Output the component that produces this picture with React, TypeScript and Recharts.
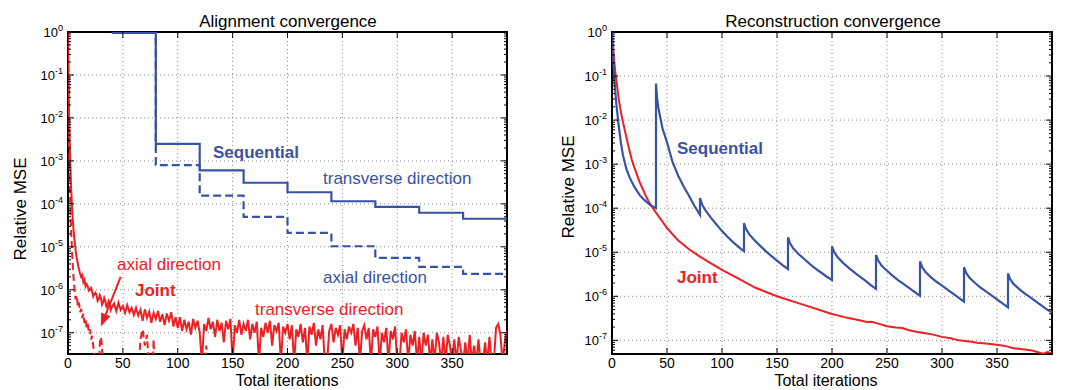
import { LineChart, Line, XAxis, YAxis, ReferenceLine, ReferenceArea, ReferenceDot } from "recharts"

const BLUE = "#3953a4"
const RED = "#ed2024"
const FONT = "'Liberation Sans', Arial, Helvetica, sans-serif"

// x ticks, shared by both panels
const ITER_TICKS = [0, 50, 100, 150, 200, 250, 300, 350, 400]
const GRID_X = [50, 100, 150, 200, 250, 300, 350]
const DECADES = [1e-7, 1e-6, 1e-5, 1e-4, 1e-3, 1e-2, 1e-1, 1]
const MINOR_MULT = [2, 3, 4, 5, 6, 7, 8, 9]

// alignment: sequential step curves (value held from each iteration on)
const ALIGN_STEP_ITERS = [40, 80, 120, 160, 200, 240, 280, 320, 360, 400]
const SEQ_TRANSVERSE = [0.95, 2.5e-3, 6e-4, 3.1e-4, 1.86e-4, 1.15e-4, 8.5e-5, 6.2e-5, 4.5e-5, 4.5e-5]
const SEQ_AXIAL = [0.95, 8e-4, 1.55e-4, 5e-5, 2.1e-5, 1.03e-5, 5.5e-6, 3.4e-6, 2.35e-6, 2.35e-6]

// alignment: joint, transverse (solid, noisy)
const JOINT_TRANSVERSE: [number, number][] = [
  [0, 1], [1, 1e-2], [2, 1e-3], [3, 2e-4], [4, 6e-5], [5, 2.5e-5], [6, 1.4e-5], [7, 8e-6], [8, 5.5e-6], [9, 4e-6],
  [10, 3e-6], [11, 2.4e-6], [12, 2e-6], [13, 2.2e-6], [14, 1.5e-6], [15, 1.7e-6], [16, 1.2e-6], [17, 1.35e-6], [18, 1.2e-6], [19, 9.5e-7],
  [20, 1e-6], [21, 1.1e-6], [22, 9e-7], [23, 7e-7], [24, 8e-7], [25, 8.5e-7], [26, 7.5e-7], [27, 5.5e-7], [28, 6e-7], [29, 7.5e-7],
  [30, 6.5e-7], [31, 4.5e-7], [32, 5e-7], [33, 6.5e-7], [34, 5.5e-7], [35, 4e-7], [36, 4.2e-7], [37, 5.5e-7], [38, 4.8e-7], [39, 3.4e-7],
  [40, 4e-7], [42, 4.8e-7], [44, 3.2e-7], [46, 5e-7], [48, 3.4e-7], [50, 4.2e-7], [52, 2.9e-7], [54, 4.4e-7], [56, 3e-7], [58, 3.8e-7],
  [60, 2.6e-7], [62, 3.8e-7], [64, 2.5e-7], [66, 3.4e-7], [68, 1.9e-7], [70, 3.5e-7], [72, 2.2e-7], [74, 3.1e-7], [76, 1.7e-7], [78, 2.9e-7],
  [80, 2.1e-7], [82, 3.2e-7], [84, 1.8e-7], [86, 2.7e-7], [88, 1.5e-7], [90, 2.8e-7], [92, 1.9e-7], [94, 3e-7], [96, 1.4e-7], [98, 2.3e-7],
  [100, 1.3e-7], [102, 2.3e-7], [104, 1.1e-7], [106, 2e-7], [108, 1.2e-7], [110, 1.8e-7], [112, 9e-8], [114, 2.1e-7], [116, 1.3e-7], [118, 1.9e-7],
  [120, 1e-7], [122, 2e-8], [124, 1.6e-7], [126, 1.1e-7], [128, 2.2e-7], [130, 1.2e-7], [132, 1.8e-7], [134, 8e-8], [136, 2e-7], [138, 1.1e-7],
  [140, 1.7e-7], [142, 6e-8], [144, 1.9e-7], [146, 1.2e-7], [148, 2.1e-7], [150, 2e-8], [152, 1.5e-7], [154, 1e-7], [156, 2e-7], [158, 9e-8],
  [160, 1.6e-7], [162, 1.1e-7], [164, 2e-7], [166, 7e-8], [168, 1.6e-7], [170, 1e-7], [172, 1.8e-7], [174, 2e-8], [176, 1.3e-7], [178, 8e-8],
  [180, 1.7e-7], [182, 1e-7], [184, 1.9e-7], [186, 5e-8], [188, 1.5e-7], [190, 1.1e-7], [192, 1.7e-7], [194, 2e-8], [196, 1.4e-7], [198, 1e-7],
  [200, 1.6e-7], [202, 7e-8], [204, 1.5e-7], [206, 2e-8], [208, 1.2e-7], [210, 8e-8], [212, 1.6e-7], [214, 6e-8], [216, 1.3e-7], [218, 2e-8],
  [220, 1.4e-7], [222, 9e-8], [224, 1.7e-7], [226, 5e-8], [228, 1.2e-7], [230, 7e-8], [232, 1.5e-7], [234, 2e-8], [236, 2e-8], [238, 1.1e-7],
  [240, 1.6e-7], [242, 6e-8], [244, 1.3e-7], [246, 9e-8], [248, 1.5e-7], [250, 2e-8], [252, 1.2e-7], [254, 7e-8], [256, 1.4e-7], [258, 1e-7],
  [260, 1.6e-7], [262, 5e-8], [264, 1.3e-7], [266, 2e-8], [268, 1.1e-7], [270, 1.5e-7], [272, 7e-8], [274, 1.3e-7], [276, 2e-8], [278, 1.2e-7],
  [280, 8e-8], [282, 1.4e-7], [284, 2e-8], [286, 1e-7], [288, 6e-8], [290, 1.3e-7], [292, 2e-8], [294, 1.1e-7], [296, 7e-8], [298, 1.4e-7],
  [300, 2e-8], [302, 2e-8], [304, 1e-7], [306, 6e-8], [308, 1.2e-7], [310, 2e-8], [312, 9e-8], [314, 5e-8], [316, 1.1e-7], [318, 2e-8],
  [320, 8e-8], [322, 2e-8], [324, 1e-7], [326, 5e-8], [328, 9e-8], [330, 2e-8], [332, 7e-8], [334, 2e-8], [336, 1e-7], [338, 6e-8],
  [340, 2e-8], [342, 8e-8], [344, 2e-8], [346, 9e-8], [348, 5e-8], [350, 2e-8], [352, 7e-8], [354, 2e-8], [356, 8e-8], [358, 4e-8],
  [360, 2e-8], [362, 6e-8], [364, 2e-8], [366, 9e-8], [368, 2e-8], [370, 5e-8], [372, 2e-8], [374, 7e-8], [376, 2e-8], [378, 2e-8],
  [380, 6e-8], [382, 2e-8], [384, 8e-8], [386, 2e-8], [388, 2e-8], [390, 1.3e-7], [392, 1.6e-7], [394, 9e-8], [396, 2e-8], [398, 6e-8],
  [400, 1.1e-7],
]

// alignment: joint, axial (dashed, mostly under the axis floor)
const JOINT_AXIAL: [number, number][] = [
  [0, 1], [1, 3e-3], [2, 1e-4], [3, 2e-5], [4, 5e-6], [5, 2e-6], [6, 1e-6], [7, 6e-7], [8, 7.5e-7], [9, 4e-7],
  [10, 5e-7], [11, 3e-7], [12, 3.6e-7], [13, 2.2e-7], [14, 2.8e-7], [15, 1.7e-7], [16, 2.1e-7], [17, 1.3e-7], [18, 1.6e-7], [19, 1e-7],
  [20, 1.2e-7], [21, 7e-8], [22, 8.5e-8], [23, 5e-8], [24, 3e-8], [25, 1e-8], [28, 1e-8], [29, 6e-8], [30, 8e-8], [31, 5e-8],
  [32, 1e-8], [64, 1e-8], [66, 7e-8], [68, 1.2e-7], [70, 5e-8], [72, 9e-8], [74, 1e-8], [77, 1e-8], [78, 7e-8], [79, 1e-8],
  [124, 1e-8], [126, 5e-8], [128, 1e-8], [400, 1e-8],
]

// reconstruction: sequential (restarts every 40 iterations)
const RECON_SEQUENTIAL: [number, number][] = [
  [0, 1], [1, 0.251], [2, 0.1], [3, 4.47e-2], [4, 2.24e-2], [6, 7.94e-3], [8, 3.16e-3], [10, 1.58e-3], [13, 7.94e-4], [16, 5.01e-4],
  [20, 3.16e-4], [25, 2.0e-4], [30, 1.48e-4], [35, 1.17e-4], [40, 1.0e-4],
  [40, 6.76e-2], [41, 3.16e-2], [42, 2.0e-2], [44, 1.12e-2], [46, 6.31e-3], [50, 3.16e-3], [55, 1.12e-3], [60, 5.62e-4], [65, 3.16e-4], [70, 1.91e-4], [75, 1.12e-4], [80, 7.08e-5],
  [80, 1.7e-4], [82, 1.2e-4], [85, 8.91e-5], [90, 6.03e-5], [95, 4.27e-5], [100, 3.02e-5], [105, 2.24e-5], [110, 1.7e-5], [115, 1.32e-5], [120, 1.05e-5],
  [120, 4.57e-5], [122, 3.31e-5], [125, 2.51e-5], [130, 1.82e-5], [135, 1.38e-5], [140, 1.05e-5], [145, 8.13e-6], [150, 6.46e-6], [155, 5.13e-6], [160, 4.17e-6],
  [160, 2.19e-5], [162, 1.58e-5], [165, 1.2e-5], [170, 8.91e-6], [175, 6.92e-6], [180, 5.37e-6], [185, 4.27e-6], [190, 3.47e-6], [195, 2.82e-6], [200, 2.34e-6],
  [200, 1.35e-5], [202, 1.0e-5], [205, 7.76e-6], [210, 5.75e-6], [215, 4.47e-6], [220, 3.55e-6], [225, 2.82e-6], [230, 2.29e-6], [235, 1.82e-6], [240, 1.48e-6],
  [240, 8.71e-6], [242, 6.46e-6], [245, 5.01e-6], [250, 3.8e-6], [255, 2.95e-6], [260, 2.34e-6], [265, 1.91e-6], [270, 1.55e-6], [275, 1.26e-6], [280, 1.02e-6],
  [280, 6.17e-6], [282, 4.57e-6], [285, 3.55e-6], [290, 2.69e-6], [295, 2.14e-6], [300, 1.74e-6], [305, 1.41e-6], [310, 1.15e-6], [315, 9.33e-7], [320, 7.59e-7],
  [320, 4.57e-6], [322, 3.39e-6], [325, 2.63e-6], [330, 2.0e-6], [335, 1.58e-6], [340, 1.29e-6], [345, 1.05e-6], [350, 8.51e-7], [355, 6.92e-7], [360, 5.62e-7],
  [360, 3.31e-6], [362, 2.45e-6], [365, 1.91e-6], [370, 1.48e-6], [375, 1.17e-6], [380, 9.55e-7], [385, 7.76e-7], [390, 6.31e-7], [395, 5.13e-7], [400, 4.27e-7],
]

// reconstruction: joint
const RECON_JOINT: [number, number][] = [
  [0, 1], [1, 0.447], [2, 0.224], [3, 0.126], [4, 7.94e-2], [6, 3.16e-2], [8, 1.58e-2], [10, 8.91e-3], [15, 2.51e-3], [18, 1.26e-3],
  [20, 8.91e-4], [25, 3.98e-4], [30, 2.09e-4], [34, 1.32e-4], [40, 7.94e-5], [50, 3.55e-5], [60, 1.86e-5], [70, 1.17e-5], [80, 7.94e-6], [90, 5.62e-6],
  [100, 3.98e-6], [115, 2.51e-6], [130, 1.58e-6], [150, 1.0e-6], [175, 6.31e-7], [200, 3.98e-7], [215, 3.2e-7], [225, 2.85e-7], [232, 2.6e-7], [236, 2.65e-7],
  [242, 2.4e-7], [250, 2.1e-7], [258, 1.95e-7], [264, 1.9e-7], [270, 1.7e-7], [278, 1.55e-7], [285, 1.45e-7], [292, 1.35e-7], [300, 1.2e-7], [308, 1.12e-7],
  [315, 1.0e-7], [325, 9.4e-8], [332, 8.8e-8], [340, 8.5e-8], [350, 7.9e-8], [358, 7.4e-8], [365, 6.6e-8], [375, 6.2e-8], [382, 5.9e-8], [388, 5.3e-8],
  [392, 5.0e-8], [396, 5.4e-8], [400, 5.1e-8],
]

const toPts = (pairs: [number, number][]) => pairs.map(([x, y]) => ({ x, y }))
const stepPts = (ys: number[]) => ALIGN_STEP_ITERS.map((x, i) => ({ x, y: ys[i] }))

function yTicks(min: number) {
  const minors = DECADES.flatMap((d) => MINOR_MULT.map((m) => m * d / 10)).filter((v) => v >= min && v < 1)
  return [...DECADES, ...minors].sort((a, b) => a - b)
}

function LogTick(props: any) {
  const { y, payload, left, right } = props
  const v = payload.value
  const e = Math.round(Math.log10(v))
  const major = Math.abs(Math.log10(v) - e) < 1e-6
  const len = major ? 6 : 3
  return (
    <g>
      <line x1={left} x2={left + len} y1={y} y2={y} stroke="#000" strokeWidth={1} />
      <line x1={right} x2={right - len} y1={y} y2={y} stroke="#000" strokeWidth={1} />
      {major && (
        <text x={left - 5} y={y + 5} textAnchor="end" fontSize={13} fontFamily={FONT} fill="#000">
          10<tspan dy={-6} fontSize={9}>{e}</tspan>
        </text>
      )}
    </g>
  )
}

function IterTick(props: any) {
  const { x, payload, top, bottom } = props
  const v = payload.value
  const edge = v === 0 || v === 400
  return (
    <g>
      {!edge && <line x1={x} x2={x} y1={bottom} y2={bottom - 6} stroke="#000" />}
      {!edge && <line x1={x} x2={x} y1={top} y2={top + 6} stroke="#000" />}
      {v !== 400 && (
        <text x={x} y={bottom + 14} textAnchor="middle" fontSize={14} fontFamily={FONT} fill="#000">
          {v}
        </text>
      )}
    </g>
  )
}

function ArrowHead(props: any) {
  const { cx, cy } = props
  // points back toward the "axial direction" label
  const dx = 20, dy = -50
  const n = Math.hypot(dx, dy)
  const ux = dx / n, uy = dy / n
  const bx = cx + ux * 13, by = cy + uy * 13
  const px = -uy * 5, py = ux * 5
  return <polygon points={`${cx},${cy} ${bx + px},${by + py} ${bx - px},${by - py}`} fill={RED} />
}

function Panel({ width, left, right, ymin, children }: any) {
  const top = 32
  const bottom = 354
  return (
    <LineChart
      width={width}
      height={390}
      margin={{ top, right: width - right, bottom: 390 - bottom - 30, left: left - 60 }}
    >
      <XAxis
        type="number"
        dataKey="x"
        domain={[0, 400]}
        ticks={ITER_TICKS}
        interval={0}
        allowDataOverflow
        height={30}
        axisLine={false}
        tickLine={false}
        tick={(p: any) => <IterTick {...p} top={top} bottom={bottom} />}
      />
      <YAxis
        type="number"
        scale="log"
        domain={[ymin, 1]}
        ticks={yTicks(ymin)}
        interval={0}
        allowDataOverflow
        width={60}
        axisLine={false}
        tickLine={false}
        tick={(p: any) => <LogTick {...p} left={left} right={right} />}
      />
      {DECADES.filter((d) => d < 1).map((d) => (
        <ReferenceLine key={"h" + d} y={d} stroke="#8a8a8a" strokeDasharray="1 3" />
      ))}
      {GRID_X.map((g) => (
        <ReferenceLine key={"v" + g} x={g} stroke="#8a8a8a" strokeDasharray="1 3" />
      ))}
      {children}
      <ReferenceArea x1={0} x2={400} y1={ymin} y2={1} fill="none" stroke="#000" strokeWidth={2} ifOverflow="visible" />
    </LineChart>
  )
}

export default function App() {
  const txt = (x: number, y: number, s: string, color: string, bold = false, size = 17) => (
    <text x={x} y={y} fill={color} fontSize={size} fontWeight={bold ? "bold" : "normal"} fontFamily={FONT}>
      {s}
    </text>
  )
  return (
    <div style={{ position: "absolute", left: 0, top: 0, width: 1077, height: 390, background: "#fff" }}>
      <div style={{ position: "absolute", left: 0, top: 0 }}>
        <Panel width={540} left={68} right={507} ymin={3.2e-8}>
          <Line data={stepPts(SEQ_AXIAL)} dataKey="y" type="stepAfter" stroke={BLUE} strokeWidth={2.2} strokeDasharray="8 4" dot={false} isAnimationActive={false} />
          <Line data={stepPts(SEQ_TRANSVERSE)} dataKey="y" type="stepAfter" stroke={BLUE} strokeWidth={2.2} dot={false} isAnimationActive={false} />
          <Line data={toPts(JOINT_AXIAL)} dataKey="y" type="linear" stroke={RED} strokeWidth={2} strokeDasharray="7 4" dot={false} isAnimationActive={false} />
          <Line data={toPts(JOINT_TRANSVERSE)} dataKey="y" type="linear" stroke={RED} strokeWidth={2} dot={false} isAnimationActive={false} />
          <ReferenceLine segment={[{ x: 48, y: 2e-6 }, { x: 32, y: 1.9e-7 }]} stroke={RED} strokeWidth={2} />
          <ReferenceDot x={30} y={1.4e-7} r={0} shape={(p: any) => <ArrowHead {...p} />} />
        </Panel>
      </div>
      <div style={{ position: "absolute", left: 540, top: 0 }}>
        <Panel width={537} left={72} right={512} ymin={4.9e-8}>
          <Line data={toPts(RECON_JOINT)} dataKey="y" type="linear" stroke={RED} strokeWidth={2} dot={false} isAnimationActive={false} />
          <Line data={toPts(RECON_SEQUENTIAL)} dataKey="y" type="linear" stroke={BLUE} strokeWidth={2.2} dot={false} isAnimationActive={false} />
        </Panel>
      </div>
      <svg width={1077} height={390} style={{ position: "absolute", left: 0, top: 0, pointerEvents: "none" }}>
        <text x={288} y={27} textAnchor="middle" fontSize={17} fontFamily={FONT}>Alignment convergence</text>
        <text x={833} y={27} textAnchor="middle" fontSize={17} fontFamily={FONT}>Reconstruction convergence</text>
        <text x={287} y={386} textAnchor="middle" fontSize={16} fontFamily={FONT}>Total iterations</text>
        <text x={826} y={386} textAnchor="middle" fontSize={16} fontFamily={FONT}>Total iterations</text>
        <text transform="translate(26,209) rotate(-90)" textAnchor="middle" fontSize={17} fontFamily={FONT}>Relative MSE</text>
        <text transform="translate(574,187) rotate(-90)" textAnchor="middle" fontSize={17} fontFamily={FONT}>Relative MSE</text>
        {txt(213, 158, "Sequential", BLUE, true)}
        {txt(323, 184, "transverse direction", BLUE)}
        {txt(323, 283, "axial direction", BLUE)}
        {txt(117, 270, "axial direction", RED)}
        {txt(135, 296, "Joint", RED, true)}
        {txt(255, 315, "transverse direction", RED)}
        {txt(677, 154, "Sequential", BLUE, true)}
        {txt(677, 283, "Joint", RED, true)}
      </svg>
    </div>
  )
}
